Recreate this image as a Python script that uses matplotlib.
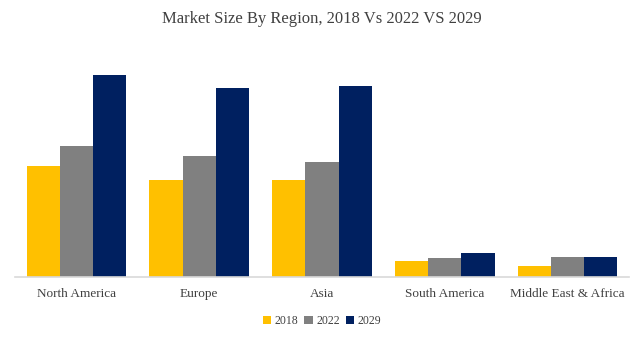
#!/usr/bin/env python3

import matplotlib
matplotlib.use("Agg")
import matplotlib.pyplot as plt
import numpy as np

# data (arbitrary units)
regions = ["North America", "Europe", "Asia", "South America", "Middle East & Africa"]
years = ["2018", "2022", "2029"]
size_2018 = [111, 97, 97, 16, 11]
size_2022 = [131, 121, 115, 19, 20]
size_2029 = [202, 189, 191, 24, 20]
colors = ["#FFC000", "#808080", "#002060"]

plt.rcParams['font.family'] = ['Liberation Serif', 'DejaVu Serif']
text_color = "#404040"

fig = plt.figure(figsize=(6.44, 3.42), dpi=100)
ax = fig.add_axes([15 / 644, 65 / 342, 614 / 644, 222 / 342])

x = np.arange(len(regions))
w = 0.27
series = [size_2018, size_2022, size_2029]
for i, vals in enumerate(series):
    ax.bar(x + (i - 1) * w, vals, width=w, color=colors[i], label=years[i])

ax.set_xlim(-0.5, len(regions) - 0.5)
ax.set_ylim(0, 222)
ax.set_yticks([])
ax.set_xticks(x)
ax.set_xticklabels(regions, fontsize=9.5, color=text_color)
ax.tick_params(axis='x', length=0, pad=8)
for s in ["top", "right", "left"]:
    ax.spines[s].set_visible(False)
ax.spines["bottom"].set_color("#d9d9d9")
ax.spines["bottom"].set_linewidth(1.2)

fig.text(0.5, 1 - 19 / 342, "Market Size By Region, 2018 Vs 2022 VS 2029",
         ha="center", va="center", fontsize=12, color=text_color)

leg = fig.legend(loc="center", bbox_to_anchor=(0.5, 1 - 321 / 342), ncol=3,
                 frameon=False, fontsize=8.5, handlelength=0.7, handleheight=0.7,
                 handletextpad=0.3, columnspacing=0.5)
for t in leg.get_texts():
    t.set_color(text_color)

fig.savefig("out.png", dpi=100)
